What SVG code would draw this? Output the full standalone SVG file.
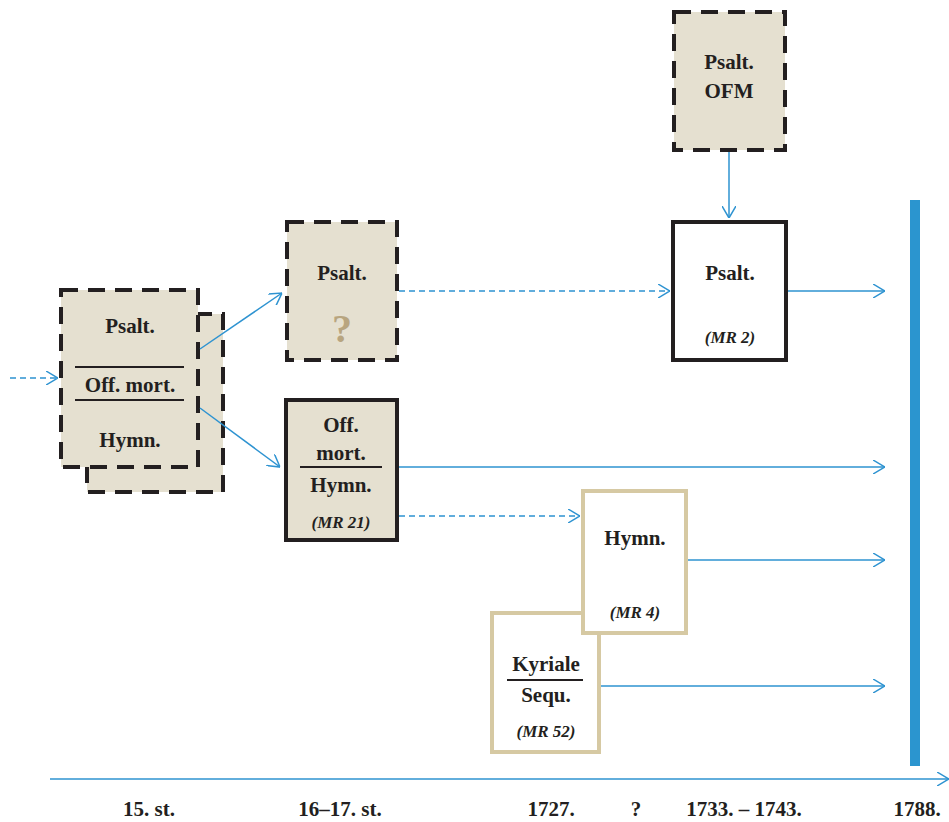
<svg xmlns="http://www.w3.org/2000/svg" width="949" height="822" viewBox="0 0 949 822">
<style>
.t{font-family:'Liberation Serif','DejaVu Serif',serif;font-weight:bold;font-size:21px;fill:#231f20;text-anchor:middle}
.i{font-family:'Liberation Serif','DejaVu Serif',serif;font-weight:bold;font-style:italic;font-size:17px;fill:#231f20;text-anchor:middle}
.b{font-family:'Liberation Serif','DejaVu Serif',serif;font-weight:bold;font-size:21px;fill:#231f20;text-anchor:middle}
.dash{fill:#e5e0d0;stroke:#231f20;stroke-width:4;stroke-dasharray:17 10}
.solid{stroke:#231f20;stroke-width:4}
.tan{fill:#fff;stroke:#d6c9a3;stroke-width:4}
.sep{stroke:#231f20;stroke-width:2}
.c{stroke:#2e93d1;stroke-width:1.5;fill:none}
.cd{stroke:#2e93d1;stroke-width:1.5;fill:none;stroke-dasharray:6 4}
</style>
<defs>
<marker id="ah" viewBox="0 0 12 14" refX="12" refY="7" markerWidth="12" markerHeight="14" markerUnits="userSpaceOnUse" orient="auto">
<path d="M0,0 L12,7 L0,14" fill="none" stroke="#2e93d1" stroke-width="1.5"/>
</marker>
</defs>
<rect width="949" height="822" fill="#fff"/>

<g id="n-source">
<rect class="dash" x="87" y="314" width="136" height="178"/>
<rect class="dash" x="61" y="290" width="137" height="177"/>
<text class="t" x="130" y="333">Psalt.</text>
<line class="sep" x1="75" y1="367" x2="184" y2="367"/>
<text class="t" x="130" y="392">Off. mort.</text>
<line class="sep" x1="75" y1="400" x2="184" y2="400"/>
<text class="t" x="130" y="447">Hymn.</text>
</g>

<g id="n-psalt-q">
<rect class="dash" x="287" y="222" width="110" height="138"/>
<text class="t" x="342" y="280">Psalt.</text>
<text x="342" y="342" font-family="'Liberation Serif',serif" font-weight="bold" font-size="40" fill="#b8a57f" text-anchor="middle">?</text>
</g>

<g id="n-offmort">
<rect class="solid" x="286" y="400" width="111" height="140" fill="#e5e0d0"/>
<text class="t" x="341" y="432">Off.</text>
<text class="t" x="341" y="460">mort.</text>
<line class="sep" x1="300" y1="467" x2="382" y2="467"/>
<text class="t" x="341" y="492">Hymn.</text>
<text class="i" x="341" y="528">(MR 21)</text>
</g>

<g id="n-psalt-ofm">
<rect class="dash" x="674" y="12" width="111" height="138"/>
<text class="t" x="729" y="69">Psalt.</text>
<text class="t" x="729" y="98">OFM</text>
</g>

<g id="n-psalt-mr2">
<rect class="solid" x="673" y="222" width="113" height="138" fill="#fff"/>
<text class="t" x="730" y="280">Psalt.</text>
<text class="i" x="730" y="343">(MR 2)</text>
</g>

<g id="n-kyriale">
<rect class="tan" x="492" y="613" width="107" height="139"/>
<text class="t" x="546" y="671">Kyriale</text>
<line class="sep" x1="507" y1="680" x2="583" y2="680"/>
<text class="t" x="546" y="702">Sequ.</text>
<text class="i" x="546" y="737">(MR 52)</text>
</g>

<g id="n-hymn-mr4">
<rect class="tan" x="583" y="491" width="103" height="142"/>
<text class="t" x="635" y="545">Hymn.</text>
<text class="i" x="635" y="618">(MR 4)</text>
</g>

<g id="bar">
<rect x="910" y="200" width="10" height="566" fill="#2b95cf"/>
</g>

<g id="connectors">
<line class="cd" x1="10" y1="378" x2="58" y2="378" marker-end="url(#ah)"/>
<line class="c" x1="200" y1="349" x2="282" y2="293" marker-end="url(#ah)"/>
<line class="c" x1="200" y1="408" x2="280" y2="467" marker-end="url(#ah)"/>
<line class="cd" x1="399" y1="291" x2="670" y2="291" marker-end="url(#ah)"/>
<line class="c" x1="729" y1="152" x2="729" y2="218" marker-end="url(#ah)"/>
<line class="c" x1="788" y1="291" x2="885" y2="291" marker-end="url(#ah)"/>
<line class="c" x1="399" y1="467" x2="885" y2="467" marker-end="url(#ah)"/>
<line class="cd" x1="399" y1="516" x2="580" y2="516" marker-end="url(#ah)"/>
<line class="c" x1="688" y1="560" x2="885" y2="560" marker-end="url(#ah)"/>
<line class="c" x1="601" y1="686" x2="885" y2="686" marker-end="url(#ah)"/>
<line class="c" x1="50" y1="779" x2="949" y2="779" marker-end="url(#ah)"/>
</g>

<g id="axis-labels">
<text class="b" x="149" y="816">15. st.</text>
<text class="b" x="340" y="816">16–17. st.</text>
<text class="b" x="551" y="816">1727.</text>
<text class="b" x="636" y="816">?</text>
<text class="b" x="744" y="816">1733. – 1743.</text>
<text class="b" x="917" y="816">1788.</text>
</g>
</svg>
